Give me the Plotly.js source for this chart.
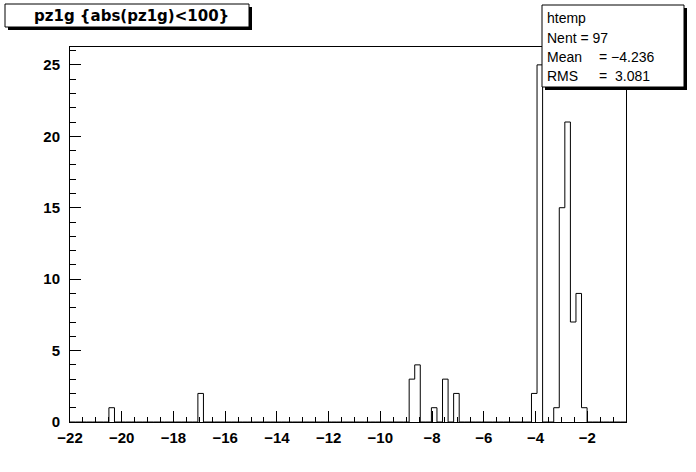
<!DOCTYPE html>
<html>
<head>
<meta charset="utf-8">
<script src="https://cdn.plot.ly/plotly-3.0.1.min.js"></script>
<style>html,body{margin:0;padding:0;background:#fff;}#chart{width:696px;height:472px;}</style>
</head>
<body>
<div id="chart"></div>
<script>
// Histogram definition (ROOT htemp): 100 bins from -22 to -0.5
const histXmin = -22;
const histXmax = -0.5;
const histNbins = 100;
// Filled bins: bin index (0-based) and counts
const filledBins = [7, 23, 61, 62, 65, 67, 69, 83, 84, 87, 88, 89, 90, 91, 92];
const filledCounts = [1, 2, 3, 4, 1, 3, 2, 2, 25, 1, 15, 21, 7, 9, 1];
// Tick labels
const xTickVals = [-22, -20, -18, -16, -14, -12, -10, -8, -6, -4, -2];
const yTickVals = [0, 5, 10, 15, 20, 25];
// Texts
const titleText = "pz1g {abs(pz1g)<100}";
const statsName = "htemp";
const statsLabels = ["Nent = 97", "Mean", "RMS"];
const statsValues = ["", "= \u22124.236", "=  3.081"];

// Build full histogram
const counts = new Array(histNbins).fill(0);
filledBins.forEach((b, i) => { counts[b] = filledCounts[i]; });
const bw = (histXmax - histXmin) / histNbins;
const edges = [];
for (let i = 0; i <= histNbins; i++) edges.push(histXmin + i * bw);
const ys = counts.concat([counts[histNbins - 1]]);

// pixel -> paper helpers (plot area 70..626 x 47..422)
const L = 70, R = 626, T = 47, B = 422;
const px = x => (x - L) / (R - L);
const py = y => (B - y) / (B - T);

const shapes = [];
const annotations = [];
function pave(x0, y0, x1, y1) {
  shapes.push({type: 'rect', xref: 'paper', yref: 'paper', layer: 'above',
    x0: px(x0 + 3), x1: px(x1 + 3), y0: py(y0 + 3), y1: py(y1 + 3),
    fillcolor: '#000', line: {width: 0}});
  shapes.push({type: 'rect', xref: 'paper', yref: 'paper', layer: 'above',
    x0: px(x0), x1: px(x1), y0: py(y0), y1: py(y1),
    fillcolor: '#fff', line: {color: '#000', width: 1}});
}
pave(5, 4, 249, 27);
pave(542, 5, 684, 87);

annotations.push({xref: 'paper', yref: 'paper', x: px(131), y: py(16), text: titleText,
  showarrow: false, xanchor: 'center', yanchor: 'middle',
  font: {family: 'DejaVu Sans, sans-serif', size: 15, weight: 'bold', color: '#000'}});

const statFont = {family: 'Liberation Sans, Arial, sans-serif', size: 14, color: '#000'};
const rowsY = [18, 38, 57, 76];
annotations.push({xref: 'paper', yref: 'paper', x: px(545), y: py(rowsY[0]), text: statsName,
  showarrow: false, xanchor: 'left', yanchor: 'middle', font: statFont});
statsLabels.forEach((t, i) => {
  annotations.push({xref: 'paper', yref: 'paper', x: px(545), y: py(rowsY[i + 1]), text: t,
    showarrow: false, xanchor: 'left', yanchor: 'middle', font: statFont});
  if (statsValues[i]) {
    annotations.push({xref: 'paper', yref: 'paper', x: px(597), y: py(rowsY[i + 1]), text: statsValues[i],
      showarrow: false, xanchor: 'left', yanchor: 'middle', font: statFont});
  }
});

const tickFont = {family: 'Liberation Sans, Arial, sans-serif', size: 15, weight: 'bold', color: '#000'};

const trace = {
  type: 'scatter', mode: 'lines', x: edges, y: ys,
  line: {shape: 'hv', color: '#000', width: 1},
  hoverinfo: 'skip', showlegend: false
};

const layout = {
  width: 696, height: 472, autosize: false,
  margin: {l: L, r: 696 - R, t: T, b: 472 - B, pad: 0},
  paper_bgcolor: '#fff', plot_bgcolor: '#fff',
  showlegend: false,
  xaxis: {
    range: [histXmin, histXmax], showgrid: false, zeroline: false,
    showline: true, linecolor: '#000', linewidth: 1, mirror: true,
    tickmode: 'array', tickvals: xTickVals,
    ticks: 'inside', ticklen: 11, tickcolor: '#000', tickwidth: 1,
    minor: {dtick: 0.5, tick0: 0, ticks: 'inside', ticklen: 5, tickcolor: '#000', showgrid: false},
    tickfont: tickFont, ticklabelstandoff: 2
  },
  yaxis: {
    range: [0, 26.25], showgrid: false, zeroline: false,
    showline: true, linecolor: '#000', linewidth: 1, mirror: true,
    tickmode: 'array', tickvals: yTickVals,
    ticks: 'inside', ticklen: 11, tickcolor: '#000', tickwidth: 1,
    minor: {dtick: 1, tick0: 0, ticks: 'inside', ticklen: 6, tickcolor: '#000', showgrid: false},
    tickfont: tickFont, ticklabelstandoff: 6
  },
  shapes: shapes,
  annotations: annotations
};

Plotly.newPlot('chart', [trace], layout, {staticPlot: true, displayModeBar: false});
</script>
</body>
</html>
